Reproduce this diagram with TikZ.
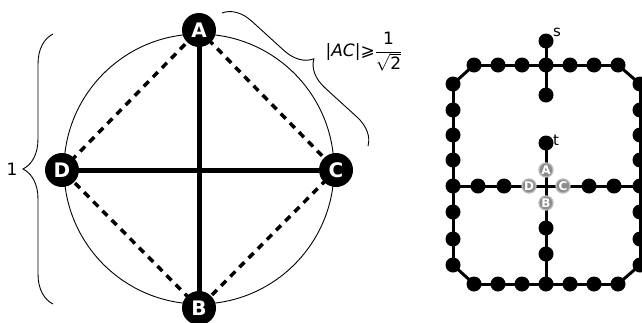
\documentclass[tikz,border=0pt]{standalone}
\usepackage{fontspec}
\setmainfont{DejaVu Sans}
\usetikzlibrary{decorations.pathreplacing}
\pgfdeclarelayer{bg}
\pgfsetlayers{bg,main}
\begin{document}
\begin{tikzpicture}[x=1pt,y=-1pt,
  bignode/.style={circle,fill=black,inner sep=0pt,minimum size=34pt,text=white,font=\fontsize{20}{20}\selectfont\bfseries},
  thickline/.style={line width=5pt},
  dashline/.style={line width=3.5pt,dash pattern=on 7pt off 6pt},
  dot/.style={circle,fill=black,inner sep=0pt,minimum size=15pt},
  gdot/.style={circle,fill=black!45,draw=black!28,line width=1.3pt,inner sep=0pt,minimum size=14pt,text=white,font=\fontsize{12}{12}\selectfont\bfseries},
  gline/.style={line width=3pt},
  bracestyle/.style={decorate,line width=0.9pt}
]
\clip (0,0) rectangle (642,322);
\useasboundingbox (0,0) rectangle (642,322);
% ---------- left figure ----------
\coordinate (O) at (199,169);
\node[bignode] (A) at (199,30) {A};
\node[bignode] (B) at (199,308) {B};
\node[bignode] (D) at (62,170) {D};
\node[bignode] (C) at (336,170) {C};
\begin{pgfonlayer}{bg}
\draw[line width=0.9pt] (O) circle (135);
\draw[dashline] (A.center) -- (C.center);
\draw[dashline] (C.center) -- (B.center);
\draw[dashline] (B.center) -- (D.center);
\draw[dashline] (D.center) -- (A.center);
\draw[thickline] (A.center) -- (B.center);
\draw[thickline] (D.center) -- (C.center);
\end{pgfonlayer}
% braces
\coordinate (lb1) at (53,304);
\coordinate (lb2) at (53,34);
\draw[bracestyle,decoration={brace,amplitude=30pt}] (lb1) -- (lb2);
\node[font=\fontsize{17}{17}\selectfont] (one) at (12,169) {1};
\coordinate (rb1) at (222,13);
\coordinate (rb2) at (368,146);
\draw[bracestyle,decoration={brace,amplitude=28pt}] (rb1) -- (rb2);
\node[font=\fontsize{17}{20}\selectfont,inner sep=0pt] (lab) at (364,52)
  {$\mbox{|\textit{AC}|⩾}\displaystyle\frac{\mbox{1}}{\sqrt{\mbox{2}}}$};
% ---------- right figure ----------
% top row
\node[dot] (t1) at (474,65) {};
\node[dot] (t2) at (498,65) {};
\node[dot] (t3) at (522,65) {};
\node[dot] (t4) at (546,65) {};
\node[dot] (t5) at (570,65) {};
\node[dot] (t6) at (594,65) {};
\node[dot] (t7) at (618,65) {};
% bottom row
\node[dot] (b1) at (474,284) {};
\node[dot] (b2) at (498,284) {};
\node[dot] (b3) at (522,284) {};
\node[dot] (b4) at (546,284) {};
\node[dot] (b5) at (570,284) {};
\node[dot] (b6) at (594,284) {};
\node[dot] (b7) at (618,284) {};
% left column
\node[dot] (l1) at (453,84) {};
\node[dot] (l2) at (453,110) {};
\node[dot] (l3) at (453,135) {};
\node[dot] (l4) at (453,160) {};
\node[dot] (l5) at (453,186) {};
\node[dot] (l6) at (453,212) {};
\node[dot] (l7) at (453,239) {};
\node[dot] (l8) at (453,265) {};
% right column
\node[dot] (r1) at (640,84) {};
\node[dot] (r2) at (640,110) {};
\node[dot] (r3) at (640,135) {};
\node[dot] (r4) at (640,160) {};
\node[dot] (r5) at (640,186) {};
\node[dot] (r6) at (640,212) {};
\node[dot] (r7) at (640,239) {};
\node[dot] (r8) at (640,265) {};
% vertical middle
\node[dot] (s) at (546,41) {};
\node[dot] (u) at (546,95) {};
\node[dot] (t) at (546,143) {};
\node[dot] (v1) at (546,228) {};
\node[dot] (v2) at (546,254) {};
% middle row
\node[dot] (m1) at (478,186) {};
\node[dot] (m2) at (504,186) {};
\node[dot] (m3) at (589,186) {};
\node[dot] (m4) at (614,186) {};
% grey nodes
\node[gdot] (gA) at (546,170) {A};
\node[gdot] (gB) at (546,203) {B};
\node[gdot] (gD) at (529,186) {D};
\node[gdot] (gC) at (563,186) {C};
% edges
\begin{pgfonlayer}{bg}
\draw[gline] (t1.center) -- (t7.center);
\draw[gline] (b1.center) -- (b7.center);
\draw[gline] (l1.center) -- (l8.center);
\draw[gline] (r1.center) -- (r8.center);
\draw[gline] (t1.center) -- (l1.center);
\draw[gline] (t7.center) -- (r1.center);
\draw[gline] (l8.center) -- (b1.center);
\draw[gline] (r8.center) -- (b7.center);
\draw[gline] (s.center) -- (u.center);
\draw[gline] (l5.center) -- (r5.center);
\draw[gline] (t.center) -- (b4.center);
\end{pgfonlayer}
% labels
\node[font=\fontsize{15}{15}\selectfont,anchor=west,inner sep=0pt] (slab) at (553,32) {s};
\node[font=\fontsize{15}{15}\selectfont,anchor=west,inner sep=0pt] (tlab) at (553,140) {t};
\end{tikzpicture}
\end{document}
